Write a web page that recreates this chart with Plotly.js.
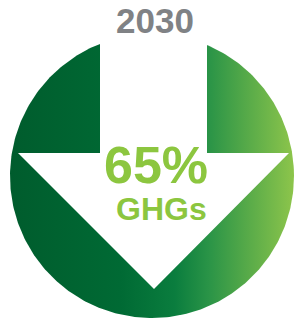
<!DOCTYPE html>
<html>
<head>
<meta charset="utf-8">
<script src="https://cdn.plot.ly/plotly-3.0.1.min.js"></script>
<style>html,body{margin:0;padding:0;background:#fff;}#chart{width:294px;height:321px;}</style>
</head>
<body>
<div id="chart"></div>
<script>
// Data
const years = ['2030'];
const reductionPct = [65];
const metricLabels = ['GHGs'];

// Geometry (styling, not data)
const cx = 152, cy = 176, r = 142;
const circX = [], circY = [];
for (let i = 0; i <= 360; i++) {
  const a = i * Math.PI / 180;
  circX.push(cx + r * Math.cos(a));
  circY.push(cy + r * Math.sin(a));
}

const traces = [{
  type: 'scatter', mode: 'lines', x: circX, y: circY,
  fill: 'toself', line: {width: 0, color: 'rgba(0,0,0,0)'},
  fillgradient: {
    type: 'horizontal',
    colorscale: [[0, '#005c2d'], [0.39, '#006a34'], [0.58, '#0a7d3e'], [0.7, '#2a9447'], [1, '#8dc54b']]
  },
  hoverinfo: 'skip', showlegend: false
}];

const arrowPath = 'M 100 0 L 207 0 L 207 153 L 289 153 L 154 289 L 18 153 L 100 153 Z';
const fam = 'Liberation Sans, Arial, sans-serif';

const layout = {
  width: 294, height: 321,
  margin: {l: 0, r: 0, t: 0, b: 0},
  paper_bgcolor: '#ffffff', plot_bgcolor: '#ffffff',
  xaxis: {range: [0, 294], visible: false, fixedrange: true},
  yaxis: {range: [321, 0], visible: false, fixedrange: true},
  showlegend: false,
  shapes: [{type: 'path', path: arrowPath, fillcolor: '#ffffff', line: {width: 0}, layer: 'above'}],
  annotations: [
    {x: 154.5, y: 20, xref: 'x', yref: 'y', text: '<b>' + years[0] + '</b>', showarrow: false,
     font: {family: fam, size: 35, color: '#808285'}, xanchor: 'center', yanchor: 'middle'},
    {x: 156, y: 165, xref: 'x', yref: 'y', text: '<b>' + reductionPct[0] + '%</b>', showarrow: false,
     font: {family: fam, size: 52, color: '#8cc63f'}, xanchor: 'center', yanchor: 'middle'},
    {x: 161.5, y: 209, xref: 'x', yref: 'y', text: '<b>' + metricLabels[0] + '</b>', showarrow: false,
     font: {family: fam, size: 32, color: '#8cc63f'}, xanchor: 'center', yanchor: 'middle'}
  ]
};

Plotly.newPlot('chart', traces, layout, {displayModeBar: false, staticPlot: true});
</script>
</body>
</html>
